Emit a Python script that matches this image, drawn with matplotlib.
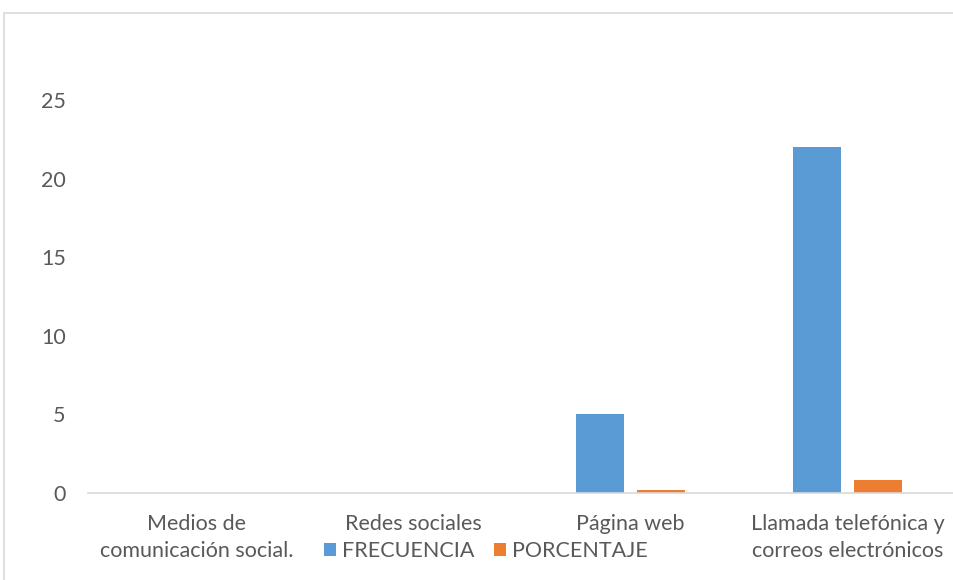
import numpy as np
import matplotlib
matplotlib.use('Agg')
import matplotlib.pyplot as plt
from matplotlib.patches import Rectangle

categories = ['Medios de\ncomunicación social.', 'Redes sociales', 'Página web',
              'Llamada telefónica y\ncorreos electrónicos']
frecuencia = [0, 0, 5, 22]
porcentaje = [0, 0, 0.19, 0.81]
yticks = [0, 5, 10, 15, 20, 25]

plt.rcParams['font.family'] = ['Lato', 'DejaVu Sans']
text_color = '#595959'

fig = plt.figure(figsize=(9.54, 5.8), dpi=100)
fig.patches.append(Rectangle((4 / 954, -0.1), 1.2, 1 - 13 / 580 + 0.1,
                             transform=fig.transFigure, fill=False,
                             edgecolor='#d9d9d9', linewidth=1.2))

ax = fig.add_axes([88 / 954, 1 - 493 / 580, (956 - 88) / 954, (493 - 100) / 580])
x = np.arange(len(categories))
w = 0.222
ax.bar(x - 0.14, frecuencia, w, color='#5b9bd5', label='FRECUENCIA')
ax.bar(x + 0.14, porcentaje, w, color='#ed7d31', label='PORCENTAJE')

ax.set_xlim(-0.5, 3.5)
ax.set_ylim(0, 25)
ax.set_yticks(yticks)
ax.set_xticks(x)
ax.set_xticklabels(categories, linespacing=1.45)
ax.tick_params(axis='both', length=0, labelsize=15.5, colors=text_color)
ax.tick_params(axis='y', pad=16)
ax.tick_params(axis='x', pad=15)
for s in ['top', 'right', 'left']:
    ax.spines[s].set_visible(False)
ax.spines['bottom'].set_color('#d9d9d9')
ax.spines['bottom'].set_linewidth(1.2)

leg = fig.legend(loc='center', bbox_to_anchor=(486 / 954, 1 - 551 / 580), ncol=2,
                 frameon=False, fontsize=15.5, handlelength=0.55, handleheight=0.55,
                 handletextpad=0.3, columnspacing=0.9)
for t in leg.get_texts():
    t.set_color(text_color)

fig.savefig('out.png', dpi=100)
